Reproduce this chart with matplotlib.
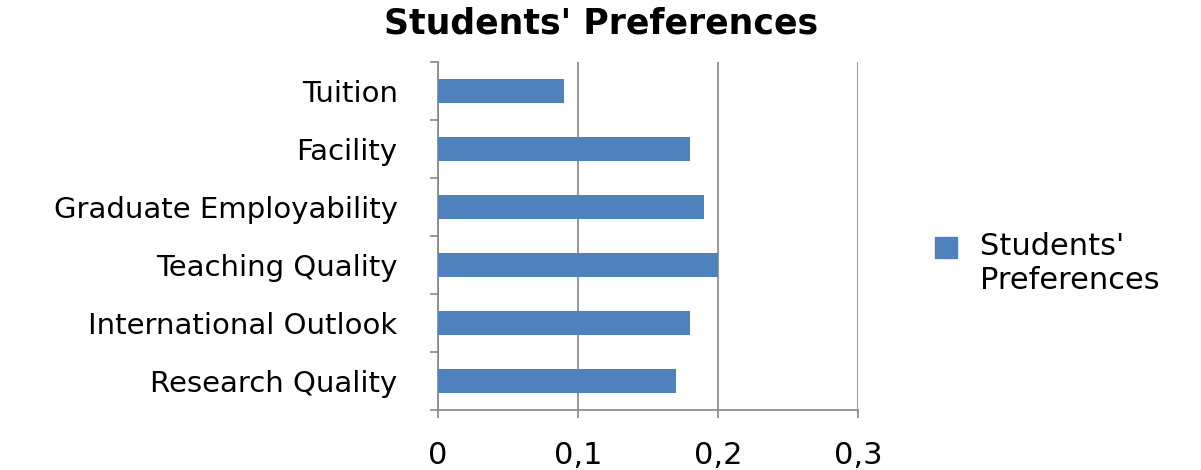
import matplotlib
matplotlib.use("Agg")
import matplotlib.pyplot as plt
from matplotlib.ticker import FixedLocator
from matplotlib.patches import Patch, Rectangle
from matplotlib.legend_handler import HandlerPatch

categories = ["Research Quality", "International Outlook", "Teaching Quality",
              "Graduate Employability", "Facility", "Tuition"]
values = [0.17, 0.18, 0.20, 0.19, 0.18, 0.09]
xticks = [0, 0.1, 0.2, 0.3]
xtick_labels = ["0", "0,1", "0,2", "0,3"]
series_name = "Students' Preferences"
legend_label = "Students'\nPreferences"
bar_color = "#4F81BD"

plt.rcParams['font.family'] = ['DejaVu Sans']
fig = plt.figure(figsize=(12.01, 4.70), dpi=100)
ax = fig.add_axes([438/1201, 60/470, 420/1201, 348/470])

pos = list(range(len(categories)))
ax.barh(pos, values, height=0.4, color=bar_color, zorder=3)
ax.set_xlim(0, 0.3)
ax.set_ylim(-0.5, len(categories) - 0.5)

ax.set_xticks(xticks)
ax.set_xticklabels(xtick_labels, fontsize=22)
ax.set_yticks(pos)
ax.set_yticklabels(categories, fontsize=21)
ax.yaxis.set_minor_locator(FixedLocator([p - 0.5 for p in pos] + [len(categories) - 0.5]))
ax.tick_params(axis='y', which='major', length=0, pad=29)
ax.tick_params(axis='y', which='minor', length=6, color="#868686", width=1.2)
ax.tick_params(axis='x', length=6, color="#868686", width=1.2, pad=16)

ax.grid(axis='x', color="#868686", linewidth=1.2, zorder=0)
for s in ["top", "right"]:
    ax.spines[s].set_visible(False)
for s in ["left", "bottom"]:
    ax.spines[s].set_color("#868686")
    ax.spines[s].set_linewidth(1.2)

fig.text(601/1201, 1 - 23/470, series_name, ha="center", va="center",
         fontsize=25, fontweight="bold")


def raised_patch(legend, orig_handle, xdescent, ydescent, width, height, fontsize):
    return Rectangle((-xdescent, -ydescent + 12), width, height)


leg = fig.legend(handles=[Patch(color=bar_color, label=legend_label)],
                 loc="upper left", bbox_to_anchor=(935/1201, 1 - 232/470),
                 frameon=False, fontsize=22, handlelength=0.72, handleheight=0.72,
                 handletextpad=0.75, borderpad=0, borderaxespad=0,
                 handler_map={Patch: HandlerPatch(patch_func=raised_patch)})

fig.savefig("out.png", dpi=100)
